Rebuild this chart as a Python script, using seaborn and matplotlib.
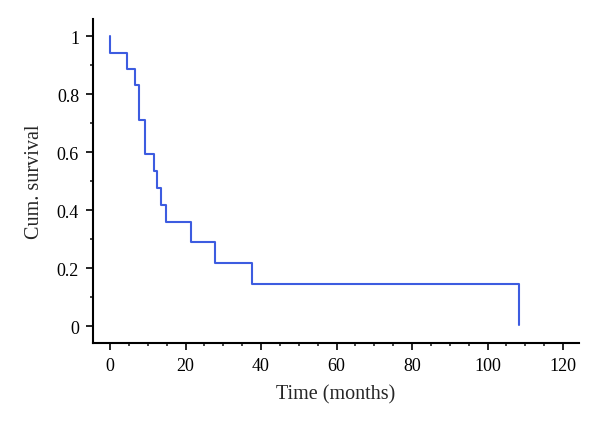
import numpy as np
import pandas as pd
from matplotlib import pyplot as plt
from matplotlib.ticker import MultipleLocator
import seaborn as sns

# Kaplan-Meier style step curve (step points, steps-post)
time_months = [0, 0, 4.6, 6.7, 7.7, 9.4, 11.7, 12.5, 13.5, 14.8, 21.5, 27.8, 37.6, 108.3]
cum_survival = [1.0, 0.944, 0.889, 0.833, 0.711, 0.593, 0.535, 0.477, 0.419, 0.36, 0.29, 0.217, 0.146, 0.005]

x_ticks = [0, 20, 40, 60, 80, 100, 120]
y_ticks = [0, 0.2, 0.4, 0.6, 0.8, 1.0]
y_tick_labels = ['0', '0.2', '0.4', '0.6', '0.8', '1']


def plot_survival(fig_name):
    sns.set_style('ticks')
    plt.rcParams['font.family'] = ['Liberation Serif', 'DejaVu Serif']
    plt.rcParams['font.size'] = 13

    fig = plt.figure(figsize=(6.0, 4.27), dpi=100)
    ax = fig.add_axes([0.155, 0.194, 0.81, 0.759])

    df = pd.DataFrame({'time': time_months, 'surv': cum_survival})
    sns.lineplot(data=df, x='time', y='surv', estimator=None, sort=False,
                 drawstyle='steps-post', color='#3d5ce0', linewidth=1.5, ax=ax)

    ax.set_xlim(-4.5, 124.2)
    ax.set_ylim(-0.059, 1.06)
    ax.set_xticks(x_ticks)
    ax.set_yticks(y_ticks)
    ax.set_yticklabels(y_tick_labels)
    ax.xaxis.set_minor_locator(MultipleLocator(5))
    ax.yaxis.set_minor_locator(MultipleLocator(0.1))
    ax.tick_params(which='major', length=5, width=1.2, direction='out', labelsize=13,
                   colors='black', pad=5)
    ax.tick_params(which='minor', length=2.5, width=1.2, direction='out')

    for side in ['top', 'right']:
        ax.spines[side].set_visible(False)
    for side in ['left', 'bottom']:
        ax.spines[side].set_linewidth(1.5)
        ax.spines[side].set_color('black')

    ax.set_xlabel('Time (months)', fontsize=14.5, labelpad=7)
    ax.set_ylabel('Cum. survival', fontsize=14.5, labelpad=9)

    fig.savefig(fig_name, dpi=100)


if __name__ == '__main__':
    plot_survival('out.png')
